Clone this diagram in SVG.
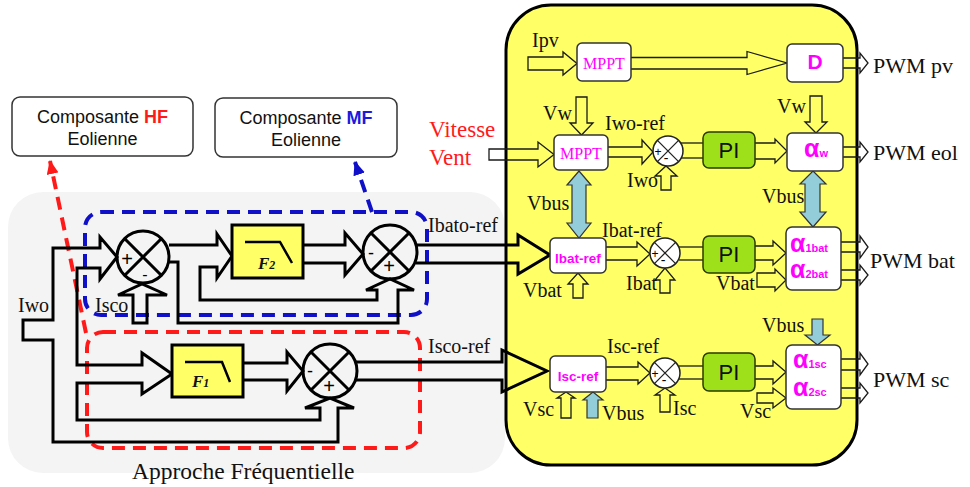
<svg xmlns="http://www.w3.org/2000/svg" width="970" height="487" viewBox="0 0 970 487">
<defs>
<style>
.lbl{font-family:"Liberation Serif","Times New Roman",serif;font-size:20px;fill:#111}
.pwm{font-family:"Liberation Serif","Times New Roman",serif;font-size:22px;fill:#111}
.sans{font-family:"Liberation Sans",Arial,sans-serif}
.mag{fill:#ff00ff}
.thk{fill:none;stroke:#000;stroke-width:3;stroke-linejoin:miter}
.thn{fill:none;stroke:#1a1a1a;stroke-width:1.3;stroke-linejoin:miter}
.lb{fill:#93cdd9;stroke:#333;stroke-width:1.2;stroke-linejoin:miter}
.wbox{fill:#fff;stroke:#333;stroke-width:1.5}
.pi{fill:#9ee01a;stroke:#2a3a00;stroke-width:1.5}
.filt{fill:#ffff66;stroke:#000;stroke-width:3}
.sumL{fill:none;stroke:#000;stroke-width:3}
.sumS{fill:#fff;stroke:#222;stroke-width:1.5}
.dR{fill:none;stroke:#ff1a1a;stroke-width:4;stroke-dasharray:13 8}
.dB{fill:none;stroke:#1010c8;stroke-width:4;stroke-dasharray:13 8}
.pm{font-family:"Liberation Sans",Arial,sans-serif;fill:#000;text-anchor:middle}
</style>
<marker id="ahR" markerUnits="userSpaceOnUse" markerWidth="14" markerHeight="12" viewBox="0 0 14 12" refX="13" refY="6" orient="auto"><path d="M0,0 L14,6 L0,12 z" fill="#ff1a1a"/></marker>
<marker id="ahB" markerUnits="userSpaceOnUse" markerWidth="14" markerHeight="12" viewBox="0 0 14 12" refX="13" refY="6" orient="auto"><path d="M0,0 L14,6 L0,12 z" fill="#1010c8"/></marker>
</defs>
<rect x="0" y="0" width="970" height="487" fill="#fff"/>
<g id="zone-frequentielle">
<rect x="8" y="192" width="497" height="281" rx="35" fill="#f4f4f4"/>
<text x="132" y="479" class="lbl" style="font-size:23.5px">Approche Fréquentielle</text>
</g>
<g id="controleur">
<rect x="506" y="5" width="351" height="460" rx="45" fill="#ffff66" stroke="#000" stroke-width="3"/>
</g>
<g id="zone-MF"><rect x="85" y="212" width="342" height="103" rx="16" class="dB"/></g>
<g id="zone-HF"><rect x="87" y="332" width="333" height="116" rx="16" class="dR"/></g>
<g id="box-HF">
<rect x="12" y="97" width="181" height="59" rx="8" class="wbox"/>
<text x="102.5" y="123" class="sans" font-size="18" text-anchor="middle" fill="#111">Composante <tspan fill="#ff1a1a" font-weight="bold">HF</tspan></text>
<text x="102.5" y="145" class="sans" font-size="18" text-anchor="middle" fill="#111">Eolienne</text>
</g>
<g id="box-MF">
<rect x="215" y="98" width="182" height="59" rx="8" class="wbox"/>
<text x="306" y="124" class="sans" font-size="18" text-anchor="middle" fill="#111">Composante <tspan fill="#1a1ae0" font-weight="bold">MF</tspan></text>
<text x="306" y="146" class="sans" font-size="18" text-anchor="middle" fill="#111">Eolienne</text>
</g>
<g id="connectors">
<path d="M86,333 L50,161" class="dR" marker-end="url(#ahR)"/>
<path d="M372,212 L355,162" class="dB" marker-end="url(#ahB)"/>
<polygon class="thk" points="23,320 53,320 53,248 100,248 100,237 117,257 100,279 100,268 77,268 77,365 142,365 142,353 172,374 142,394 142,383 77,383 77,420 320,420 320,408 305,408 330,398 354,408 338,408 338,442 53,442 53,340 23,340"/>
<polygon class="thk" points="133,323 133,295 118,295 142,284 167,295 147,295 147,323"/>
<polyline class="thk" points="169,245 217,245 217,234 232,256 217,278 217,267 200,267 200,300 377,300 377,290 366,290 390,279 414,290 398,290 398,323 178,323 178,262 168,262"/>
<polyline class="thk" points="303,245 345,245 345,233 363,254 345,275 345,263 303,263"/>
<polyline class="thk" points="243,363 287,363 287,352 303,371 287,391 287,380 243,380"/>
<polyline class="thk" points="416,245 518,245 518,235 550,255 518,274 518,263 416,263"/>
<polyline class="thk" points="356,362 502,362 502,350 547,371 502,392 502,380 356,380"/>
<polygon class="thn" points="528,57 563,57 563,52 577,63.5 563,75 563,70 528,70"/>
<polyline class="thn" points="631,57.5 747,57.5 747,51.5 787,63 747,74.5 747,69 631,69"/>
<polyline class="thn" points="843,58 860,58 860,53 868,63 860,73 860,68 843,68"/>
<polygon class="thn" points="489,149 538,149 538,142 554,154.5 538,167 538,160 489,160"/>
<polygon class="thn" points="576,97 587,97 587,123 593,123 581.5,135 570,123 576,123"/>
<polyline class="thn" points="608,147 642,147 642,140 653,152 642,164 642,157 608,157"/>
<polygon class="thn" points="661,190 661,176 655,176 666,166 677,176 671,176 671,190"/>
<line class="thn" x1="680" y1="143" x2="703" y2="143"/>
<line class="thn" x1="680" y1="158" x2="703" y2="158"/>
<polyline class="thn" points="755,143 775,143 775,139 787,151 775,163 775,159 755,159"/>
<polygon class="thn" points="810,96 822,96 822,122 827,122 816,133 805,122 810,122"/>
<polyline class="thn" points="843,147 860,147 860,142 868,152 860,162 860,157 843,157"/>
<polygon class="lb" points="579,171 591,185 586,185 586,223 591,223 579,238 567,223 572,223 572,185 567,185"/>
<polygon class="lb" points="813,171 826,184 820,184 820,212 826,212 813,227 800,212 805,212 805,184 800,184"/>
<polyline class="thn" points="606,247 637,247 637,242 650,254 637,266 637,260 606,260"/>
<polygon class="thn" points="660,293 660,280 655,280 665,268 675,280 670,280 670,293"/>
<polygon class="thn" points="573,298 573,284 568,284 578,273 588,284 583,284 583,298"/>
<line class="thn" x1="679" y1="247" x2="703" y2="247"/>
<line class="thn" x1="679" y1="260" x2="703" y2="260"/>
<polyline class="thn" points="755,246 773,246 773,241 786,253 773,265 773,260 755,260"/>
<polygon class="thn" points="757,273 775,273 775,269 786,280 775,291 775,287 757,287"/>
<polyline class="thn" points="841,242 860,242 860,236 868,247 860,258 860,252 841,252"/>
<polyline class="thn" points="841,270 860,270 860,265 868,275 860,285 860,280 841,280"/>
<polyline class="thn" points="606,367 638,367 638,362 650,373 638,384 638,380 606,380"/>
<polygon class="thn" points="660,412 660,395 655,395 665,388 675,395 670,395 670,412"/>
<polygon class="thn" points="561,418 561,398 557,398 566,392 575,398 571,398 571,418"/>
<polygon class="lb" points="587,418 587,400 583,400 593,392 603,400 598,400 598,418"/>
<line class="thn" x1="679" y1="366" x2="703" y2="366"/>
<line class="thn" x1="679" y1="379" x2="703" y2="379"/>
<polyline class="thn" points="755,366 773,366 773,361 786,372 773,384 773,379 755,379"/>
<polygon class="thn" points="757,393 773,393 773,388 786,398 773,408 773,403 757,403"/>
<polygon class="lb" points="812,319 823,319 823,335 830,335 817.5,345 805,335 812,335"/>
<polyline class="thn" points="841,359 860,359 860,353 868,364 860,375 860,370 841,370"/>
<polyline class="thn" points="841,388 860,388 860,383 868,393 860,403 860,398 841,398"/>
</g>
<g id="sum1">
<circle cx="143" cy="257" r="26" class="sumL"/>
<path d="M125,239 L161,275 M161,239 L125,275" class="sumL"/>
<text x="127" y="266" class="pm" font-size="20">+</text>
<text x="145" y="280" class="pm" font-size="16">-</text>
</g>
<g id="F2">
<rect x="232" y="225" width="71" height="53" class="filt"/>
<path d="M245,242 L280,242 L292,263" fill="none" stroke="#000" stroke-width="2.5"/>
<text x="258" y="269" font-family="Liberation Serif,serif" font-style="italic" font-weight="bold" font-size="17" fill="#111">F<tspan font-size="12">2</tspan></text>
</g>
<g id="sum2">
<circle cx="390" cy="252" r="27" class="sumL"/>
<path d="M371,233 L409,271 M409,233 L371,271" class="sumL"/>
<text x="371" y="259" class="pm" font-size="18">-</text>
<text x="389" y="273" class="pm" font-size="20">+</text>
</g>
<g id="F1">
<rect x="172" y="345" width="71" height="52" class="filt"/>
<path d="M185,362 L222,362 L230,382" fill="none" stroke="#000" stroke-width="2.5"/>
<text x="192" y="387" font-family="Liberation Serif,serif" font-style="italic" font-weight="bold" font-size="17" fill="#111">F<tspan font-size="12">1</tspan></text>
</g>
<g id="sum3">
<circle cx="330" cy="371" r="27" class="sumL"/>
<path d="M311,352 L349,390 M349,352 L311,390" class="sumL"/>
<text x="310" y="377" class="pm" font-size="18">-</text>
<text x="329" y="393" class="pm" font-size="20">+</text>
</g>
<g id="labels-left">
<text x="18" y="312" class="lbl">Iwo</text>
<text x="95" y="312" class="lbl">Isco</text>
<text x="428" y="232" class="lbl">Ibato-ref</text>
<text x="428" y="353" class="lbl">Isco-ref</text>
<text x="429" y="137" class="lbl" style="font-size:23px;fill:#ff1a1a">Vitesse</text>
<text x="429" y="165" class="lbl" style="font-size:23px;fill:#ff1a1a">Vent</text>
</g>
<g id="mppt-pv">
<rect x="577" y="43" width="54" height="38" rx="5" class="wbox"/>
<text x="604" y="69" class="lbl" style="font-size:16px;fill:#ff00ff" text-anchor="middle">MPPT</text>
</g>
<g id="D">
<rect x="787" y="44" width="56" height="38" rx="5" class="wbox"/>
<text x="815" y="69" class="sans mag" font-size="21" font-weight="bold" text-anchor="middle">D</text>
</g>
<g id="mppt-eol">
<rect x="554" y="135" width="54" height="35" rx="5" class="wbox"/>
<text x="581" y="159" class="lbl" style="font-size:16px;fill:#ff00ff" text-anchor="middle">MPPT</text>
</g>
<g id="sum-eol">
<circle cx="668" cy="151" r="15" class="sumS"/>
<path d="M657.4,140.4 L678.6,161.6 M678.6,140.4 L657.4,161.6" stroke="#222" stroke-width="1.3"/>
<text x="658" y="156" class="pm" font-size="12">+</text>
<text x="666" y="163" class="pm" font-size="14">-</text>
</g>
<g id="PI-eol">
<rect x="703" y="132" width="52" height="36" rx="6" class="pi"/>
<text x="729" y="158" class="sans" font-size="22" text-anchor="middle" fill="#111">PI</text>
</g>
<g id="alpha-w">
<rect x="787" y="133" width="56" height="38" rx="5" class="wbox"/>
<text x="804" y="157" class="sans mag" font-weight="bold"><tspan font-size="25">α</tspan><tspan font-size="11">w</tspan></text>
</g>
<g id="ibat-ref">
<rect x="550" y="238" width="56" height="35" rx="5" class="wbox"/>
<text x="578" y="263" class="sans mag" font-size="13.5" font-weight="bold" text-anchor="middle">Ibat-ref</text>
</g>
<g id="sum-bat">
<circle cx="665" cy="253" r="15" class="sumS"/>
<path d="M654.4,242.4 L675.6,263.6 M675.6,242.4 L654.4,263.6" stroke="#222" stroke-width="1.3"/>
<text x="655" y="258" class="pm" font-size="12">+</text>
<text x="663" y="265" class="pm" font-size="14">-</text>
</g>
<g id="PI-bat">
<rect x="703" y="236" width="52" height="37" rx="6" class="pi"/>
<text x="729" y="262" class="sans" font-size="22" text-anchor="middle" fill="#111">PI</text>
</g>
<g id="alpha-bat">
<rect x="786" y="227" width="55" height="63" rx="6" class="wbox"/>
<text x="790" y="252" class="sans mag" font-weight="bold"><tspan font-size="25">α</tspan><tspan font-size="11">1bat</tspan></text>
<text x="790" y="278" class="sans mag" font-weight="bold"><tspan font-size="25">α</tspan><tspan font-size="11">2bat</tspan></text>
</g>
<g id="isc-ref">
<rect x="550" y="356" width="56" height="36" rx="5" class="wbox"/>
<text x="578" y="381" class="sans mag" font-size="13.5" font-weight="bold" text-anchor="middle">Isc-ref</text>
</g>
<g id="sum-sc">
<circle cx="665" cy="373" r="15" class="sumS"/>
<path d="M654.4,362.4 L675.6,383.6 M675.6,362.4 L654.4,383.6" stroke="#222" stroke-width="1.3"/>
<text x="655" y="378" class="pm" font-size="12">+</text>
<text x="664" y="385" class="pm" font-size="14">-</text>
</g>
<g id="PI-sc">
<rect x="703" y="353" width="52" height="38" rx="6" class="pi"/>
<text x="729" y="380" class="sans" font-size="22" text-anchor="middle" fill="#111">PI</text>
</g>
<g id="alpha-sc">
<rect x="786" y="345" width="55" height="64" rx="6" class="wbox"/>
<text x="793" y="368" class="sans mag" font-weight="bold"><tspan font-size="25">α</tspan><tspan font-size="11">1sc</tspan></text>
<text x="793" y="396" class="sans mag" font-weight="bold"><tspan font-size="25">α</tspan><tspan font-size="11">2sc</tspan></text>
</g>
<g id="labels-right">
<text x="532" y="47" class="lbl">Ipv</text>
<text x="543" y="120" class="lbl">Vw</text>
<text x="605" y="130" class="lbl">Iwo-ref</text>
<text x="627" y="187" class="lbl">Iwo</text>
<text x="777" y="113" class="lbl">Vw</text>
<text x="527" y="210" class="lbl">Vbus</text>
<text x="762" y="203" class="lbl">Vbus</text>
<text x="602" y="237" class="lbl">Ibat-ref</text>
<text x="523" y="297" class="lbl">Vbat</text>
<text x="626" y="290" class="lbl">Ibat</text>
<text x="716" y="290" class="lbl">Vbat</text>
<text x="762" y="332" class="lbl">Vbus</text>
<text x="607" y="353" class="lbl">Isc-ref</text>
<text x="523" y="416" class="lbl">Vsc</text>
<text x="602" y="420" class="lbl">Vbus</text>
<text x="673" y="415" class="lbl">Isc</text>
<text x="740" y="418" class="lbl">Vsc</text>
<text x="873" y="73" class="pwm">PWM pv</text>
<text x="873" y="160" class="pwm">PWM eol</text>
<text x="870" y="268" class="pwm">PWM bat</text>
<text x="873" y="387" class="pwm">PWM sc</text>
</g>
</svg>
